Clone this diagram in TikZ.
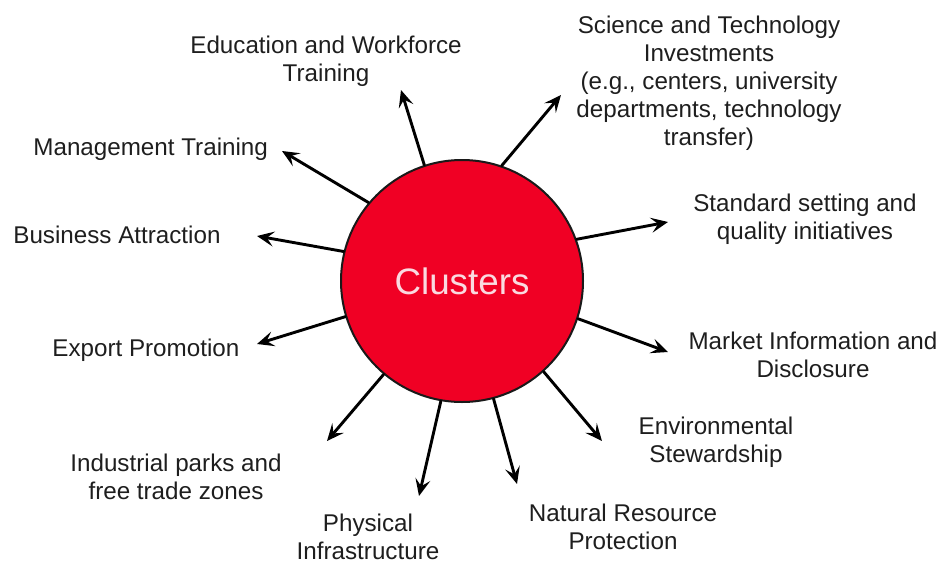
\documentclass[tikz,border=0pt]{standalone}
\usepackage{fontspec}
\setmainfont{Liberation Sans}
\usetikzlibrary{arrows.meta}
\definecolor{clred}{RGB}{240,0,36}
\definecolor{clpink}{RGB}{250,218,224}
\definecolor{lbltext}{RGB}{30,30,30}

\begin{document}
\begin{tikzpicture}[x=0.5pt,y=-0.5pt,line cap=round,line join=round,
  lbl/.style={align=center,inner sep=0pt,text=lbltext,font=\fontsize{12.1}{14}\selectfont},
  ray/.style={line width=1.45pt,-{Stealth[length=8.5pt,width=7.5pt,inset=3.5pt]}}]
  \useasboundingbox (0,0) rectangle (943,562);
  \node[circle,minimum size=121pt,fill=clred,draw=black!90,line width=1pt,
    text=clpink,font=\fontsize{18.4}{22}\selectfont] (C) at (462,281) {Clusters};
  % arrow tips
  \coordinate (Ed) at (401,90);
  \coordinate (Mg) at (282,151);
  \coordinate (Bu) at (257,236);
  \coordinate (Sc) at (561,95);
  \coordinate (St) at (668,222);
  \coordinate (Mk) at (668,352);
  \coordinate (En) at (602,441);
  \coordinate (Na) at (517,484);
  \coordinate (Ph) at (419,496);
  \coordinate (In) at (327,441);
  \coordinate (Ex) at (257,344);
  \draw[ray] (C.108) -- (Ed);
  \draw[ray] (C.140) -- (Mg);
  \draw[ray] (C.166) -- (Bu);
  \draw[ray] (C.71) -- (Sc);
  \draw[ray] (C.20) -- (St);
  \draw[ray] (C.-18) -- (Mk);
  \draw[ray] (C.-48) -- (En);
  \draw[ray] (C.-75) -- (Na);
  \draw[ray] (C.-100) -- (Ph);
  \draw[ray] (C.-130) -- (In);
  \draw[ray] (C.-163) -- (Ex);
  % labels
  \node[lbl] (EdL) at (326,61) {Education and Workforce\\Training};
  \node[lbl,anchor=west] (MgL) at (33,149) {Management Training};
  \node[lbl,anchor=west] (BuL) at (13,235) {Business Attraction};
  \node[lbl] (ScL) at (709,83) {Science and Technology\\Investments\\(e.g., centers, university\\departments, technology\\transfer)};
  \node[lbl] (StL) at (805,219) {Standard setting and\\quality initiatives};
  \node[lbl] (MkL) at (813,355) {Market Information and\\Disclosure};
  \node[lbl] (EnL) at (716,442) {Environmental\\Stewardship};
  \node[lbl] (NaL) at (623,527) {Natural Resource\\Protection};
  \node[lbl] (PhL) at (368,537) {Physical\\Infrastructure};
  \node[lbl] (InL) at (176,477) {Industrial parks and\\free trade zones};
  \node[lbl,anchor=west] (ExL) at (52,350) {Export Promotion};
\end{tikzpicture}
\end{document}
